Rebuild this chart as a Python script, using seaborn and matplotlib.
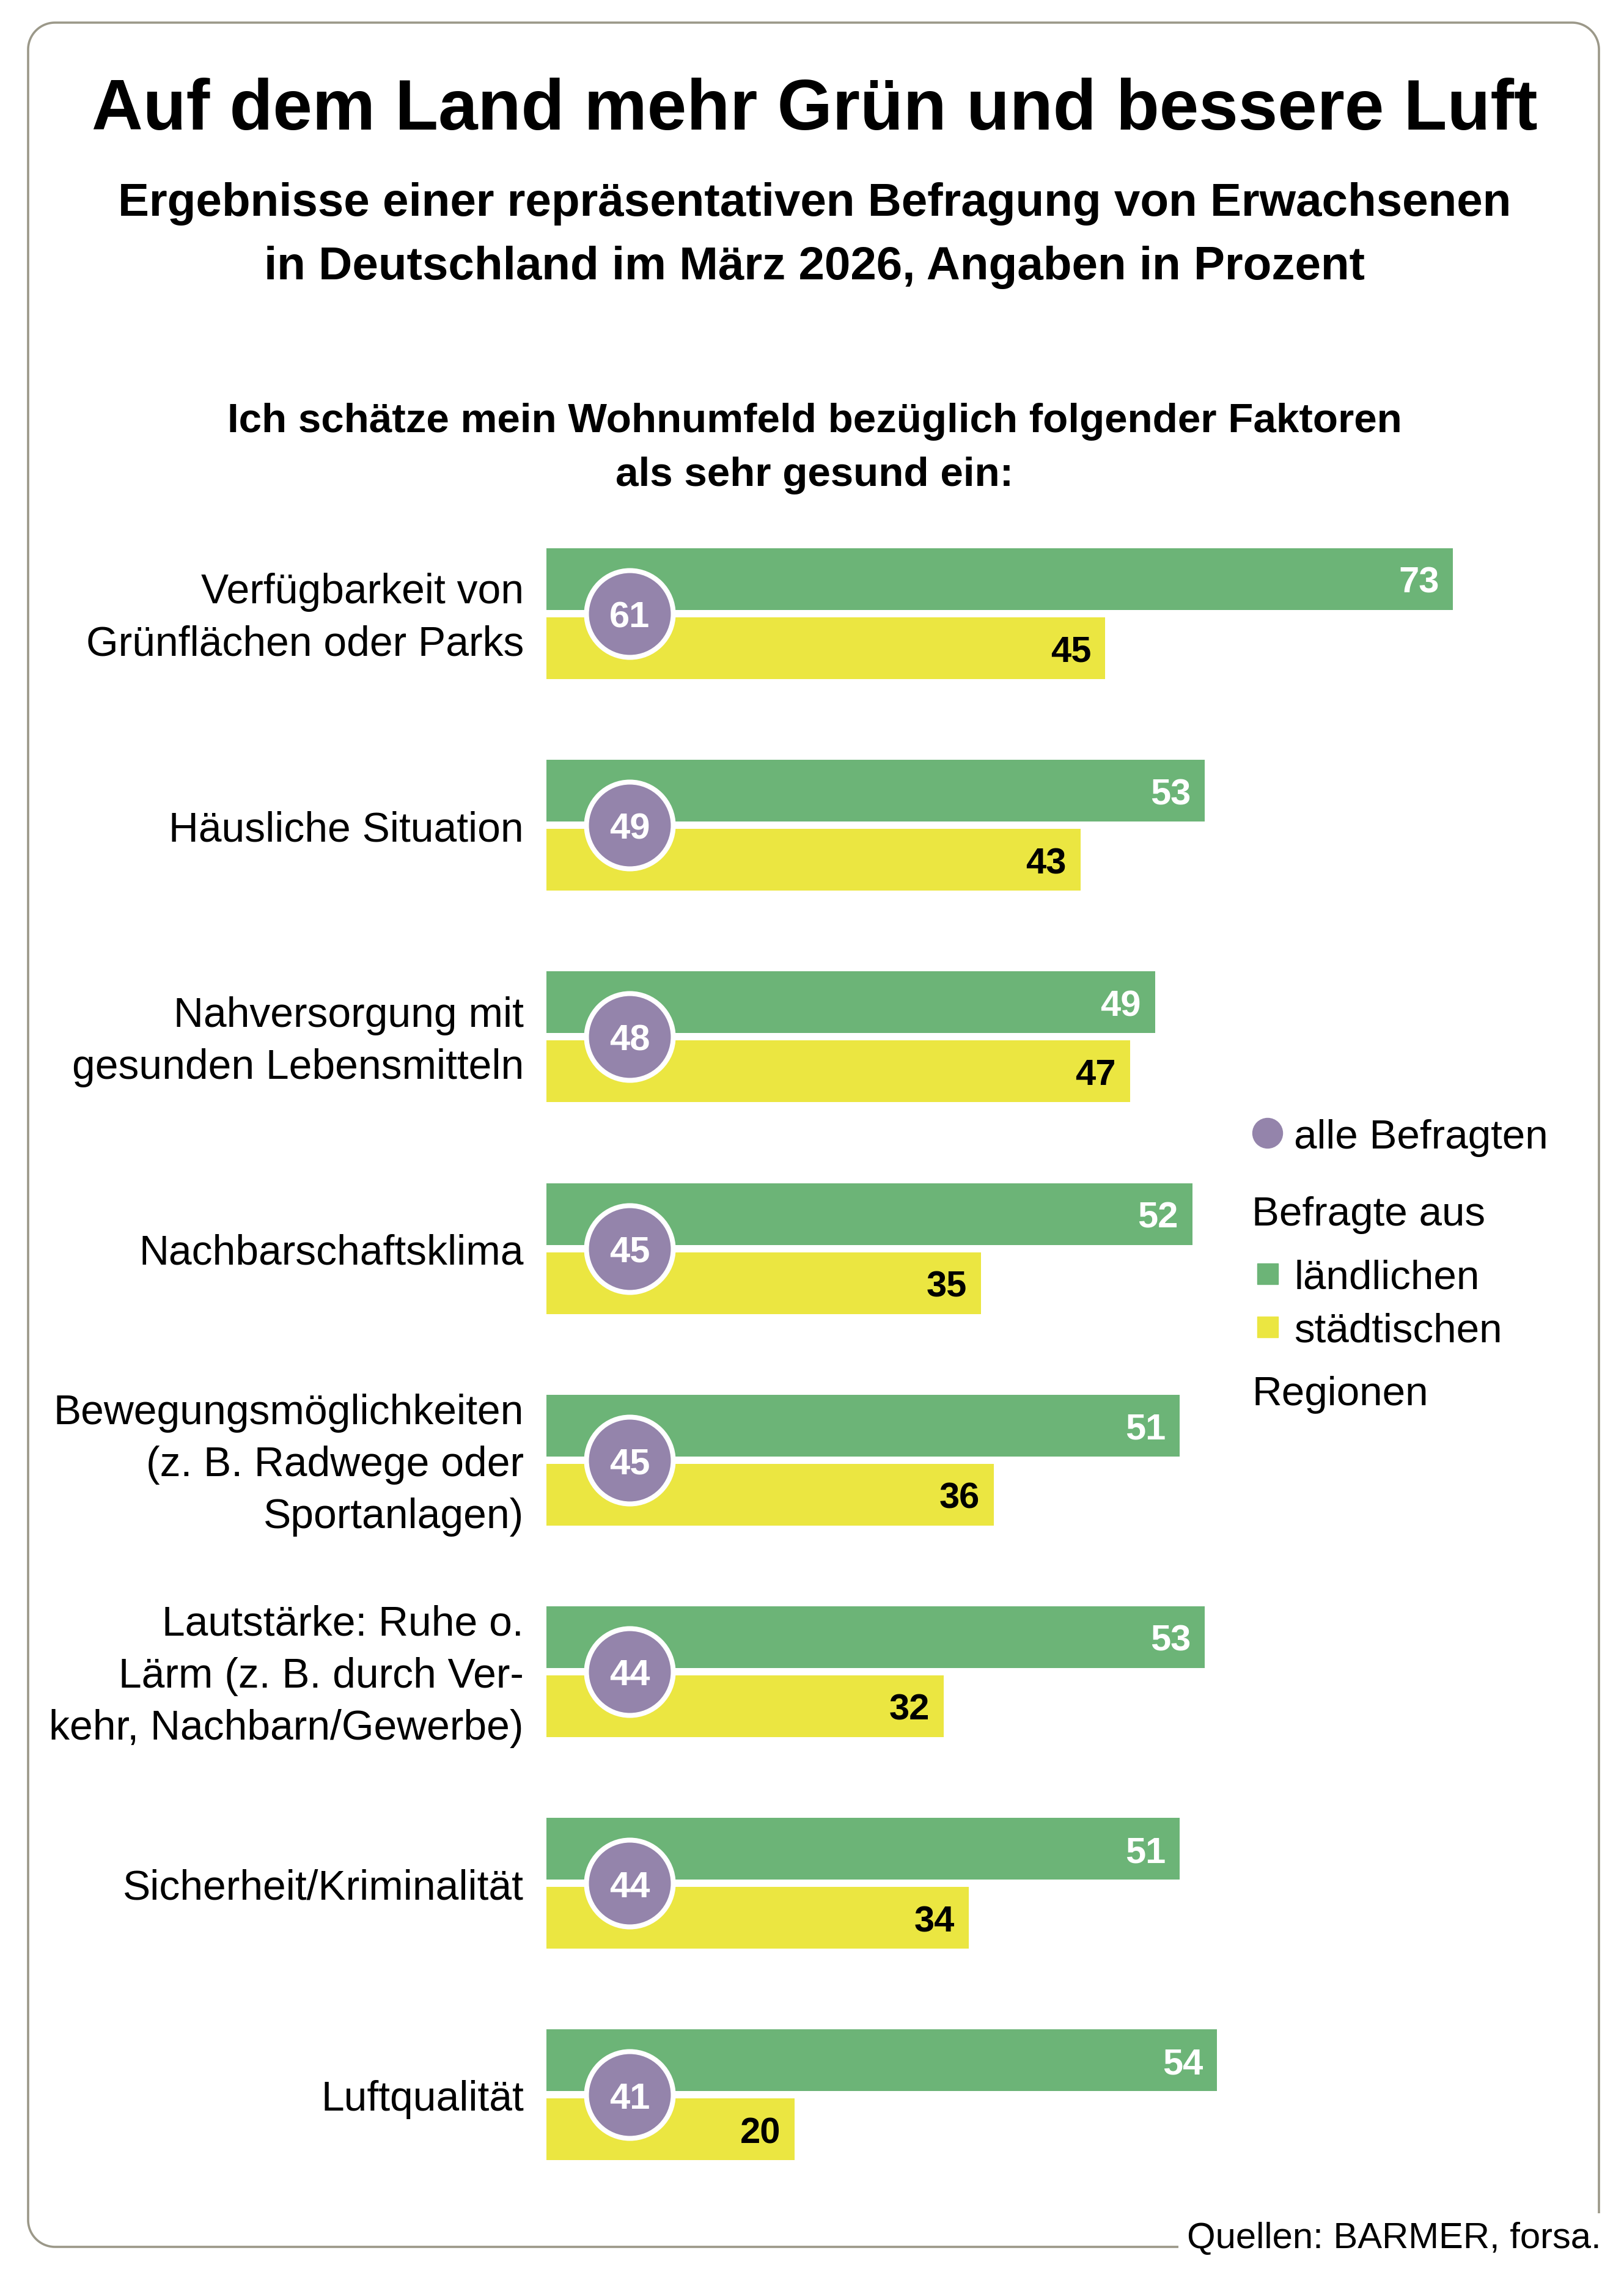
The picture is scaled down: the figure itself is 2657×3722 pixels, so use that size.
import numpy as np
import pandas as pd
import matplotlib
matplotlib.use('Agg')
import matplotlib.pyplot as plt
from matplotlib import font_manager
from matplotlib.patches import Rectangle, Circle
import seaborn as sns

# data
faktoren = [
    'Verfügbarkeit von\nGrünflächen oder Parks',
    'Häusliche Situation',
    'Nahversorgung mit\ngesunden Lebensmitteln',
    'Nachbarschaftsklima',
    'Bewegungsmöglichkeiten\n(z. B. Radwege oder\nSportanlagen)',
    'Lautstärke: Ruhe o.\nLärm (z. B. durch Ver-\nkehr, Nachbarn/Gewerbe)',
    'Sicherheit/Kriminalität',
    'Luftqualität',
]
alle = [61, 49, 48, 45, 45, 44, 44, 41]
laendlich = [73, 53, 49, 52, 51, 53, 51, 54]
staedtisch = [45, 43, 47, 35, 36, 32, 34, 20]
regionen = ['ländlichen', 'städtischen']

title = 'Auf dem Land mehr Grün und bessere Luft'
subtitle = ['Ergebnisse einer repräsentativen Befragung von Erwachsenen',
            'in Deutschland im März 2026, Angaben in Prozent']
header = ['Ich schätze mein Wohnumfeld bezüglich folgender Faktoren',
          'als sehr gesund ein:']
source = 'Quellen: BARMER, forsa.'

GREEN = '#6cb477'
YELLOW = '#ebe641'
PURPLE = '#9484ab'
FRAME = '#9b9889'

W, H, DPI = 2657, 3723, 100

sns.set_theme(style='white')
plt.rcParams['font.family'] = ['Liberation Sans', 'DejaVu Sans']
plt.rcParams['text.color'] = 'black'
names = {f.name for f in font_manager.fontManager.ttflist}
NARROW = 'Liberation Sans Narrow' if 'Liberation Sans Narrow' in names else 'Liberation Sans'

fig = plt.figure(figsize=(W / DPI, H / DPI), dpi=DPI)
fig.patch.set_facecolor('white')

# overlay in pixel coordinates for frame, titles and legend
bg = fig.add_axes([0, 0, 1, 1])
bg.set_xlim(0, W)
bg.set_ylim(H, 0)
bg.axis('off')

# bar axes: 20.32 px per percent, 346 px per row
PX = 20.32
XMAX = 85
ROW = 346.2
n = len(faktoren)
x0 = 894
top = 1005 - ROW / 2
ax = fig.add_axes([x0 / W, 1 - (top + n * ROW) / H, XMAX * PX / W, n * ROW / H])

df = pd.DataFrame({
    'Faktor': faktoren * 2,
    'Region': [regionen[0]] * n + [regionen[1]] * n,
    'Prozent': laendlich + staedtisch,
})
sns.barplot(data=df, x='Prozent', y='Faktor', hue='Region', hue_order=regionen,
            orient='h', palette=[GREEN, YELLOW], saturation=1, width=0.653,
            gap=0.106, linewidth=0, legend=False, ax=ax)

NUM_SIZE = 43
half_cap = 0.716 * NUM_SIZE / 2
for cont, col in zip(ax.containers, ['white', 'black']):
    lbls = ax.bar_label(cont, fmt='%d', padding=-16.5, fontsize=NUM_SIZE,
                        fontweight='bold', color=col, family=NARROW)
    for t in lbls:
        t.set_ha('right')
        t.set_va('baseline')
        t.xyann = (-16.5, -half_cap)

CIRCLE_X = 6.7
sns.scatterplot(x=[CIRCLE_X] * n, y=np.arange(n), s=10450, color=PURPLE,
                edgecolor='white', linewidth=5.8, zorder=3, legend=False, ax=ax)
for i, v in enumerate(alle):
    ax.annotate(str(v), (CIRCLE_X, i), xytext=(0, -half_cap), textcoords='offset points',
                ha='center', va='baseline', color='white', fontsize=NUM_SIZE,
                fontweight='bold', family=NARROW, zorder=4)

for i, lab in enumerate(faktoren):
    ax.annotate(lab, (0, i), xytext=(-37 * 0.72, -5), textcoords='offset points',
                ha='right', va='center', multialignment='right',
                fontsize=48.8, linespacing=1.42, annotation_clip=False)

ax.set_xlim(0, XMAX)
ax.set_ylim(n - 0.5, -0.5)
ax.axis('off')

# frame (open at bottom right for the source line)
L, T, R, B, r = 46, 38, 2616, 3677, 44
def arc(cx, cy, a0, a1):
    th = np.radians(np.linspace(a0, a1, 30))
    return cx + r * np.cos(th), cy + r * np.sin(th)
xs, ys = [1928], [B]
for (cx, cy, a0, a1) in [(L + r, B - r, 90, 180), (L + r, T + r, 180, 270),
                         (R - r, T + r, 270, 360)]:
    ax_, ay_ = arc(cx, cy, a0, a1)
    xs += list(ax_)
    ys += list(ay_)
xs.append(R)
ys.append(3622)
bg.plot(xs, ys, color=FRAME, lw=2.6, solid_capstyle='butt')

cx = 1333
bg.text(cx, 212, title, ha='center', va='baseline', fontsize=83.5, fontweight='bold')
bg.text(cx, 353, subtitle[0], ha='center', va='baseline', fontsize=55, fontweight='bold')
bg.text(cx, 457, subtitle[1], ha='center', va='baseline', fontsize=55, fontweight='bold')
bg.text(cx, 707, header[0], ha='center', va='baseline', fontsize=48.5, fontweight='bold', family=NARROW)
bg.text(cx, 795, header[1], ha='center', va='baseline', fontsize=48.5, fontweight='bold', family=NARROW)

# legend
LEG = 48.5
bg.add_patch(Circle((2074, 1855), 24.5, color=PURPLE))
bg.text(2117, 1879, 'alle Befragten', va='baseline', fontsize=LEG)
bg.text(2048, 2005, 'Befragte aus', va='baseline', fontsize=LEG)
bg.add_patch(Rectangle((2057, 2068), 34, 34, color=GREEN))
bg.text(2117, 2109, regionen[0], va='baseline', fontsize=LEG)
bg.add_patch(Rectangle((2057, 2155), 34, 34, color=YELLOW))
bg.text(2117, 2196, regionen[1], va='baseline', fontsize=LEG)
bg.text(2048, 2299, 'Regionen', va='baseline', fontsize=LEG)

bg.text(2620, 3678, source, ha='right', va='baseline', fontsize=43)

fig.savefig('out.png', dpi=DPI, facecolor='white')
